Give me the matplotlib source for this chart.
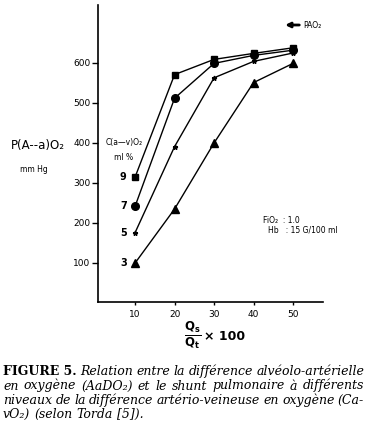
import numpy as np
import matplotlib.pyplot as plt

# shunt fraction Qs/Qt x 100
shunt = [10, 20, 30, 40, 50]
# P(A-a)O2 for each C(a-v)O2 level (ml %)
aado2_9 = [315, 571, 609, 624, 638]
aado2_7 = [242, 512, 599, 619, 632]
aado2_5 = [176, 391, 563, 604, 625]
aado2_3 = [100, 235, 400, 551, 599]
cav_labels = ['9', '7', '5', '3']

x_ticks = [10, 20, 30, 40, 50]
y_ticks = [100, 200, 300, 400, 500, 600]

caption = [
    'Relation entre la différence alvéolo-artérielle',
    'en oxygène (AaDO\u2082) et le shunt pulmonaire à différents',
    'niveaux de la différence artério-veineuse en oxygène (Ca-',
    'vO\u2082) (selon Torda [5]).',
]

plt.rcParams['mathtext.fontset'] = 'dejavusans'

W, H = 379, 442
fig = plt.figure(figsize=(W / 100, H / 100), dpi=100)
ax = fig.add_axes([98 / W, 1 - 302 / H, (323 - 98) / W, (302 - 5) / H])

ax.set_xlim(0.6, 57.6)
ax.set_ylim(2.5, 745)

series = [
    (aado2_9, 's', 5.0),
    (aado2_7, 'o', 5.5),
    (aado2_5, '*', 3.5),
    (aado2_3, '^', 5.5),
]
for vals, mk, ms in series:
    ax.plot(shunt, vals, color='black', lw=1.0, marker=mk, ms=ms,
            markerfacecolor='black', markeredgecolor='black')

# level labels next to first points
for lab, (vals, mk, ms) in zip(cav_labels, series):
    ax.text(7.0, vals[0], lab, ha='center', va='center', fontsize=7,
            fontweight='bold')

ax.spines['top'].set_visible(False)
ax.spines['right'].set_visible(False)
ax.spines['left'].set_linewidth(1.2)
ax.spines['bottom'].set_linewidth(1.2)
ax.set_xticks(x_ticks)
ax.set_yticks(y_ticks)
ax.tick_params(axis='y', length=4, width=1, pad=1.5, labelsize=6.5)
ax.tick_params(axis='x', length=2.5, width=1, pad=3.5, labelsize=6.5)

ax.text(7.2, 400, 'C(a\u2014v)O\u2082', ha='center', va='center', fontsize=5.5)
ax.text(7.2, 365, 'ml %', ha='center', va='center', fontsize=5.5)

ax.text(42.4, 207, 'FiO\u2082  : 1.0', ha='left', va='center', fontsize=5.5)
ax.text(43.7, 182, 'Hb   : 15 G/100 ml', ha='left', va='center', fontsize=5.5)

ax.annotate('', xy=(47.3, 695), xytext=(52.3, 695),
            arrowprops=dict(arrowstyle='-|>', color='black', lw=2.0,
                            mutation_scale=7))
ax.text(52.6, 695, 'PAO\u2082', ha='left', va='center', fontsize=5.5)

fig.text(38 / W, 1 - 146 / H, 'P(A--a)O\u2082', ha='center', va='center',
         fontsize=8.5)
fig.text(34 / W, 1 - 169 / H, 'mm Hg', ha='center', va='center', fontsize=5.5)

# x axis label: Qs/Qt x 100
fig.text(193 / W, 1 - 335 / H, r'$\mathbf{\frac{Q_{s}}{Q_{t}}}$',
         ha='center', va='center', fontsize=12)
fig.text(204 / W, 1 - 336 / H, '\u00d7 100', ha='left', va='center',
         fontsize=9, fontweight='bold')

# caption, justified between x=3 and x=364 px
serif = ['DejaVu Serif']
fig.canvas.draw()
renderer = fig.canvas.get_renderer()
left, right = 3, 364
baselines = [375, 389.5, 404, 418]
for i, (line, yb) in enumerate(zip(caption, baselines)):
    words = line.split(' ')
    pieces = []
    if i == 0:
        t = fig.text(0, 0, 'FIGURE 5.', fontsize=9.0, family=serif,
                     fontweight='bold', va='baseline')
        pieces.append(t)
    for w in words:
        pieces.append(fig.text(0, 0, w, fontsize=9.0, family=serif,
                               style='italic', va='baseline'))
    widths = [p.get_window_extent(renderer).width for p in pieces]
    total = sum(widths)
    if i < len(caption) - 1:
        gap = max(2.5, (right - left - total) / (len(pieces) - 1))
    else:
        gap = 4.0
    x = left
    for p, w in zip(pieces, widths):
        p.set_position((x / W, 1 - yb / H))
        x += w + gap

fig.savefig('out.png', dpi=100)
